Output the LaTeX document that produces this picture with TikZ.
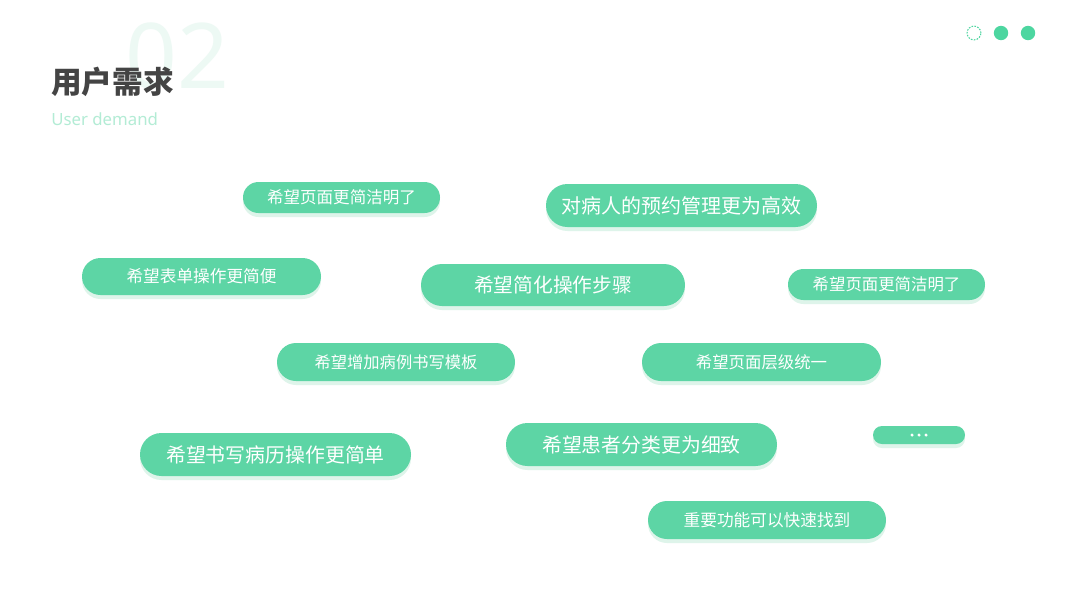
\documentclass[tikz,border=0pt]{standalone}
\usepackage{fontspec}
\newfontfamily\cjk{Noto Sans CJK SC}
\newfontfamily\latin{Noto Sans}
\usetikzlibrary{shapes.misc,shadows}
\definecolor{pillgreen}{HTML}{5DD5A5}
\definecolor{shadowgreen}{HTML}{D6F2E5}
\definecolor{dotgreen}{HTML}{4DD6A0}
\definecolor{titlegray}{HTML}{444444}
\definecolor{numgreen}{HTML}{EDF9F4}
\definecolor{subgreen}{HTML}{B3ECD5}
\tikzset{
  pill/.style={rounded rectangle, fill=pillgreen, text=white, inner sep=0pt,
    drop shadow={shadow xshift=0pt, shadow yshift=-3pt, fill=shadowgreen, opacity=0.8}},
}
\newcommand{\pillnode}[7]{%
  \node[pill, minimum width=#4*0.75pt, minimum height=#5*0.75pt] (#1) at (#2,#3) {\fontsize{#6}{#6}\cjk\selectfont #7};}
\begin{document}
\begin{tikzpicture}[x=0.75pt,y=-0.75pt]
\useasboundingbox (0,0) rectangle (1067,600);
\fill[white] (0,0) rectangle (1067,600);
% header
\node[anchor=west, inner sep=0pt, text=numgreen, font=\latin\fontsize{68pt}{68pt}\selectfont] (num) at (125,56) {02};
\node[anchor=west, inner sep=0pt, text=titlegray, font=\cjk\bfseries\fontsize{23pt}{23pt}\selectfont] (title) at (51,82) {用户需求};
\node[anchor=west, inner sep=0pt, text=subgreen, font=\latin\fontsize{12.6pt}{12.6pt}\selectfont] (sub) at (51,119) {User demand};
% dots
\draw[dotgreen, line width=0.8pt, dash pattern=on 1.2pt off 1pt] (974,33) circle[radius=5.2pt];
\fill[dotgreen] (1001,33) circle[radius=5.4pt];
\fill[dotgreen] (1028,33) circle[radius=5.4pt];
% pills
\pillnode{p1}{341.5}{197.5}{197}{31}{12.4pt}{希望页面更简洁明了}
\pillnode{p2}{681.5}{205.5}{271}{43}{15pt}{对病人的预约管理更为高效}
\pillnode{p3}{201.5}{276.5}{239}{37}{12.5pt}{希望表单操作更简便}
\pillnode{p4}{553}{285}{264}{42}{14.8pt}{希望简化操作步骤}
\pillnode{p5}{886.5}{284.5}{197}{31}{12.3pt}{希望页面更简洁明了}
\pillnode{p6}{396}{362}{238}{38}{12.2pt}{希望增加病例书写模板}
\pillnode{p7}{761.5}{362}{239}{38}{12.3pt}{希望页面层级统一}
\pillnode{p8}{275.5}{454.5}{271}{43}{14.9pt}{希望书写病历操作更简单}
\pillnode{p9}{641.5}{444.5}{271}{43}{14.9pt}{希望患者分类更为细致}
\node[pill, minimum width=92*0.75pt, minimum height=18*0.75pt] (p10) at (919,435) {};
\foreach \dx in {-7,0,7} \fill[white] ([xshift=\dx*0.75pt]p10.center) circle[radius=1.3pt];
\pillnode{p11}{767}{520}{238}{38}{12.5pt}{重要功能可以快速找到}
\end{tikzpicture}
\end{document}
